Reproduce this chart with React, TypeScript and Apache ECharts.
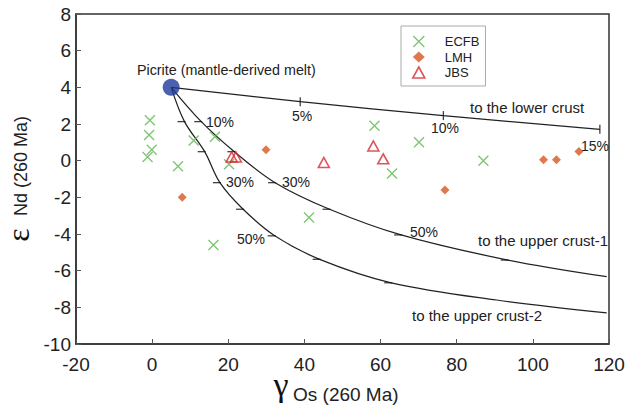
import React, { useEffect, useRef } from "react";
import * as echarts from "echarts";

// ---- data ----
const ecfb: number[][] = [
  [-0.6, 2.2], [-0.8, 1.4], [-0.1, 0.6], [-1.2, 0.2], [6.8, -0.3], [10.9, 1.1],
  [16.5, 1.3], [20.2, -0.2], [41.2, -3.1], [16.1, -4.6], [58.4, 1.9], [70.1, 1.0],
  [87.0, 0.0], [63.0, -0.7],
];
const lmh: number[][] = [
  [29.9, 0.6], [7.9, -2.0], [76.9, -1.6], [102.8, 0.05], [106.2, 0.05], [112.1, 0.5],
];
const jbs: number[][] = [
  [20.9, 0.2], [22.0, 0.2], [45.1, -0.1], [58.1, 0.8], [60.7, 0.1],
];
const picrite: number[][] = [[5, 4]];

// mixing curves (start at picrite); intermediate points are the % ticks
const lowerCrust: number[][] = [[5, 4], [38.9, 3.22], [76.5, 2.46], [117.6, 1.71]];
const upperCrust1: number[][] = [
  [5, 4], [12.9, 2.13], [21.6, 0.49], [32.3, -1.2], [46.6, -2.65], [65.4, -4.05],
  [93.4, -5.42], [119.4, -6.33],
];
const upperCrust2: number[][] = [
  [5, 4], [8.5, 2.13], [13.8, 0.49], [17.8, -1.2], [23.9, -2.65], [32.2, -4.1],
  [44.0, -5.38], [62.8, -6.66], [90.5, -7.6], [119.4, -8.3],
];
const lowerTicks = lowerCrust.slice(1, 4);
const upper1Ticks = upperCrust1.slice(1, 7);
const upper2Ticks = upperCrust2.slice(1, 8);

const xTicks = { min: -20, max: 120, interval: 20 };
const yTicks = { min: -10, max: 8, interval: 2 };

const SANS = "Liberation Sans, Arial, Helvetica, sans-serif";
const SERIF = "Liberation Serif, Times New Roman, serif";
const GREEN = "#5db54f";
const ORANGE = "#d4581f";
const RED = "#d42a31";
const BLUE = "#1f3a98";
const XPATH = "path://M0,0L10,10M10,0L0,10";

export default function App() {
  const ref = useRef<HTMLDivElement>(null);
  useEffect(() => {
    if (!ref.current) return;
    const chart = echarts.init(ref.current, null, { renderer: "svg" });
    const curve = (data: number[][]) => ({
      type: "line",
      data,
      smooth: 0.35,
      symbol: "none",
      silent: true,
      lineStyle: { color: "#222", width: 1.25 },
      z: 2,
    });
    const ticks = (data: number[][], size: number[], offset: number[]) => ({
      type: "scatter",
      data,
      symbol: "rect",
      symbolSize: size,
      symbolOffset: offset,
      itemStyle: { color: "#111" },
      silent: true,
      z: 3,
    });
    const txt = (text: string, x: number, y: number, size = 15, align = "left") => ({
      type: "text",
      x,
      y,
      style: {
        text,
        fill: "#222",
        font: `${size}px ${SANS}`,
        textAlign: align,
        textVerticalAlign: "middle",
      },
      z: 10,
    });
    chart.setOption({
      animation: false,
      backgroundColor: "#fff",
      grid: {
        left: 76,
        top: 14,
        width: 533,
        height: 330,
        show: true,
        borderColor: "#333",
        borderWidth: 1.5,
        backgroundColor: "transparent",
      },
      xAxis: {
        type: "value",
        ...xTicks,
        axisLine: { show: true, onZero: false, lineStyle: { color: "#333", width: 1.5 } },
        axisTick: { show: true, inside: true, length: 5, lineStyle: { color: "#555" } },
        axisLabel: { fontSize: 19, fontFamily: SANS, color: "#222", margin: 11 },
        splitLine: { show: false },
      },
      yAxis: {
        type: "value",
        ...yTicks,
        axisLine: { show: true, onZero: false, lineStyle: { color: "#333", width: 1.5 } },
        axisTick: { show: true, inside: true, length: 5, lineStyle: { color: "#555" } },
        axisLabel: { fontSize: 19, fontFamily: SANS, color: "#222", margin: 5 },
        splitLine: { show: false },
      },
      legend: {
        left: 401,
        top: 26,
        orient: "vertical",
        padding: [9, 6, 7, 11],
        itemWidth: 12,
        itemHeight: 11,
        itemGap: 2.5,
        borderColor: "#aaa",
        borderWidth: 1,
        backgroundColor: "#fff",
        textStyle: { fontSize: 13, fontFamily: SANS, color: "#222", padding: [0, 0, 0, 15] },
        data: [
          { name: "ECFB", itemStyle: { color: "transparent", borderColor: GREEN, borderWidth: 1.3 } },
          { name: "LMH", itemStyle: { color: ORANGE, borderWidth: 0 } },
          { name: "JBS", itemStyle: { color: "transparent", borderColor: RED, borderWidth: 1.6 } },
        ],
      },
      series: [
        curve(lowerCrust),
        curve(upperCrust1),
        curve(upperCrust2),
        ticks(lowerTicks, [1.3, 9], [0, 0]),
        ticks(upper1Ticks, [8, 1.3], [-3, 0]),
        ticks(upper2Ticks, [8, 1.3], [-3, 0]),
        {
          name: "ECFB",
          type: "scatter",
          data: ecfb,
          symbol: XPATH,
          symbolSize: 10,
          itemStyle: { color: "transparent", borderColor: GREEN, borderWidth: 1.3 },
          z: 5,
        },
        {
          name: "LMH",
          type: "scatter",
          data: lmh,
          symbol: "diamond",
          symbolSize: 9,
          itemStyle: { color: ORANGE },
          z: 5,
        },
        {
          name: "JBS",
          type: "scatter",
          data: jbs,
          symbol: "triangle",
          symbolSize: [11, 10],
          itemStyle: { color: "transparent", borderColor: RED, borderWidth: 1.6 },
          z: 5,
        },
        {
          name: "Picrite",
          type: "scatter",
          data: picrite,
          symbol: "circle",
          symbolSize: 17,
          itemStyle: { color: BLUE },
          z: 6,
        },
      ],
      graphic: [
        txt("Picrite (mantle-derived melt)", 137, 70, 14.3),
        txt("10%", 206, 122, 14),
        txt("30%", 226, 182, 14),
        txt("30%", 282, 182, 14),
        txt("50%", 237, 239, 14),
        txt("50%", 410, 232, 14),
        txt("5%", 302, 116, 14, "center"),
        txt("10%", 445, 128, 14, "center"),
        txt("15%", 595, 146, 14, "center"),
        txt("to the lower crust", 470, 107, 15),
        txt("to the upper crust-1", 478, 240, 15),
        txt("to the upper crust-2", 412, 315, 15),
        {
          type: "text",
          x: 18,
          y: 235,
          rotation: Math.PI / 2,
          style: { text: "ε", fill: "#111", font: `32px ${SERIF}`, textAlign: "center", textVerticalAlign: "middle" },
        },
        {
          type: "text",
          x: 21,
          y: 166,
          rotation: Math.PI / 2,
          style: { text: "Nd (260 Ma)", fill: "#222", font: `18px ${SANS}`, textAlign: "center", textVerticalAlign: "middle" },
        },
        {
          type: "text",
          x: 281,
          y: 384,
          style: { text: "γ", fill: "#111", font: `34px ${SERIF}`, textAlign: "center", textVerticalAlign: "middle" },
        },
        {
          type: "text",
          x: 293,
          y: 394,
          style: { text: "Os (260 Ma)", fill: "#222", font: `19px ${SANS}`, textAlign: "left", textVerticalAlign: "middle" },
        },
      ],
    });
    return () => chart.dispose();
  }, []);
  return (
    <div
      ref={ref}
      style={{ position: "absolute", left: 0, top: 0, width: 630, height: 412 }}
    />
  );
}
